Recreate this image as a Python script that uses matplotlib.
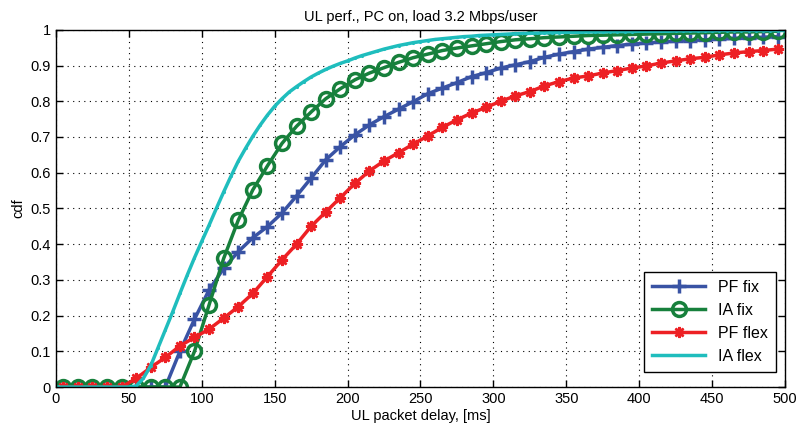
import numpy as np
import matplotlib
matplotlib.use('Agg')
import matplotlib.pyplot as plt

# delay axis (ms) - markers every 10 ms
delay = np.arange(5, 500, 10)
# IA flex is drawn on a finer 5 ms grid
delay_fine = np.arange(0, 501, 5)

pf_fix = [0, 0, 0, 0, 0, 0, 0, 0, 0.10, 0.19,
          0.272, 0.332, 0.379, 0.418, 0.449, 0.487, 0.535, 0.585, 0.636, 0.673,
          0.706, 0.734, 0.757, 0.778, 0.799, 0.821, 0.837, 0.852, 0.869, 0.880,
          0.893, 0.902, 0.911, 0.923, 0.932, 0.939, 0.946, 0.951, 0.956, 0.960,
          0.963, 0.966, 0.968, 0.970, 0.972, 0.974, 0.976, 0.977, 0.979, 0.981]

ia_fix = [0, 0, 0, 0, 0, 0, 0, 0, 0, 0.10,
          0.23, 0.36, 0.467, 0.552, 0.619, 0.682, 0.730, 0.770, 0.807, 0.835,
          0.860, 0.879, 0.894, 0.909, 0.922, 0.932, 0.942, 0.949, 0.955, 0.961,
          0.967, 0.972, 0.975, 0.978, 0.980, 0.982, 0.984, 0.985, 0.986, 0.987,
          0.988, 0.989, 0.990, 0.991, 0.992, 0.993, 0.994, 0.994, 0.995, 0.996]

pf_flex = [0, 0, 0, 0, 0, 0.024, 0.055, 0.083, 0.115, 0.139,
           0.162, 0.193, 0.225, 0.262, 0.309, 0.356, 0.40, 0.45, 0.49, 0.53,
           0.57, 0.605, 0.633, 0.656, 0.680, 0.703, 0.727, 0.748, 0.767, 0.783,
           0.800, 0.815, 0.827, 0.843, 0.855, 0.865, 0.871, 0.879, 0.886, 0.893,
           0.899, 0.907, 0.913, 0.919, 0.923, 0.930, 0.935, 0.939, 0.942, 0.946]

ia_flex = [0, 0, 0, 0, 0, 0, 0, 0, 0, 0, 0,
           0.003, 0.025, 0.06, 0.11, 0.16, 0.21, 0.262, 0.313, 0.362, 0.408,
           0.453, 0.50, 0.546, 0.59, 0.632, 0.668, 0.702, 0.733, 0.761, 0.786,
           0.807, 0.826, 0.841, 0.855, 0.868, 0.879, 0.889, 0.898, 0.906, 0.913,
           0.921, 0.928, 0.934, 0.940, 0.946, 0.951, 0.956, 0.960, 0.964, 0.967,
           0.970, 0.973, 0.975, 0.977, 0.979, 0.981, 0.982, 0.984, 0.985, 0.986,
           0.987, 0.988, 0.989, 0.990,
           0.990, 0.991, 0.991, 0.992, 0.992, 0.993, 0.993, 0.993, 0.994, 0.994,
           0.994, 0.995, 0.995, 0.995, 0.995, 0.996, 0.996, 0.996, 0.996, 0.996,
           0.997, 0.997, 0.997, 0.997, 0.997, 0.997, 0.998, 0.998, 0.998, 0.998,
           0.998, 0.998, 0.998, 0.998, 0.998, 0.998]

plt.rcParams['font.family'] = ['Liberation Sans', 'DejaVu Sans']
plt.rcParams['font.size'] = 10.5

fig = plt.figure(figsize=(8.02, 4.32), dpi=100)
ax = fig.add_axes([0.0698, 0.104, 0.909, 0.827])

ax.plot(delay, pf_fix, color='#3953A4', lw=2.5, marker='+', ms=10, mew=2.5, label='PF fix')
ax.plot(delay, ia_fix, color='#17803C', lw=2.5, marker='o', ms=10, mew=2.5,
        mfc='none', label='IA fix')
ax.plot(delay, pf_flex, color='#ED2024', lw=2.5, marker=(8, 2, 0), ms=8, mew=1.8, label='PF flex')
ax.plot(delay_fine, ia_flex, color='#1FBDBD', lw=2.5, marker='.', ms=2.5, label='IA flex')

ax.set_xlim(0, 500)
ax.set_ylim(0, 1)
ax.set_xticks(np.arange(0, 501, 50))
ax.set_yticks(np.arange(0, 1.01, 0.1))
ax.set_yticklabels(['0', '0.1', '0.2', '0.3', '0.4', '0.5', '0.6', '0.7', '0.8', '0.9', '1'])
ax.tick_params(direction='in', top=True, right=True, length=5, width=1)
ax.grid(True, color='k', linestyle=(0, (1, 4)), linewidth=0.8)
for s in ax.spines.values():
    s.set_linewidth(1)

ax.set_xlabel('UL packet delay, [ms]', labelpad=2)
ax.set_ylabel('cdf', labelpad=4)
ax.set_title('UL perf., PC on, load 3.2 Mbps/user', fontsize=10.5, pad=6)

leg = ax.legend(loc='lower right', fancybox=False, edgecolor='k', framealpha=1,
                fontsize=11.5, handlelength=3.3, borderpad=0.5, labelspacing=0.5,
                bbox_to_anchor=(0.998, 0.02))
leg.get_frame().set_linewidth(1)

fig.savefig('out.png', dpi=100)
